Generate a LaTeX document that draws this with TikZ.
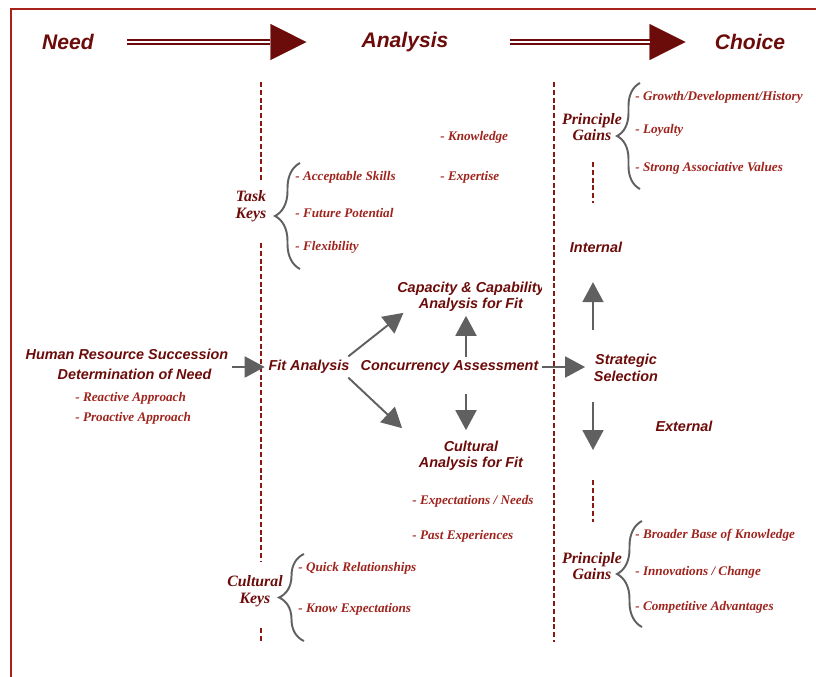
\documentclass[tikz,border=0pt]{standalone}
\usepackage{fontspec}
\setmainfont{Liberation Serif}
\setsansfont{Liberation Sans}
\usetikzlibrary{positioning,arrows.meta,decorations.pathreplacing}

\definecolor{headred}{RGB}{108,12,10}
\definecolor{itemred}{RGB}{158,36,30}
\definecolor{framered}{RGB}{168,34,28}
\definecolor{linered}{RGB}{140,24,20}
\definecolor{arrowgray}{RGB}{96,96,96}

\tikzset{
  stage/.style={font=\sffamily\bfseries\itshape\fontsize{12}{14}\selectfont, text=headred},
  lbl/.style={font=\sffamily\bfseries\itshape\fontsize{8.2}{9.4}\selectfont, text=headred, align=center, inner sep=2pt},
  keylbl/.style={font=\bfseries\itshape\fontsize{9}{9.5}\selectfont, text=headred, align=center, inner sep=2pt},
  item/.style={font=\bfseries\itshape\fontsize{7.5}{9}\selectfont, text=itemred, anchor=west, inner sep=0pt},
  flow/.style={draw=arrowgray, line width=1.1pt, -{Triangle[length=0.4cm,width=0.42cm]}},
  shaft/.style={draw=headred, line width=0.9pt, double=white, double distance=1.6pt},
  bighead/.style={draw=headred, line width=0.1pt, -{Triangle[length=0.72cm,width=0.72cm]}},
  divider/.style={draw=linered, line width=0.75pt, dash pattern=on 0.1cm off 0.055cm},
  bracket/.style={draw=arrowgray, line width=1.1pt, decorate, decoration={brace, amplitude=#1}},
  bracket/.default=0.5cm
}

\begin{document}
\begin{tikzpicture}[x=0.02cm, y=-0.02cm]
\useasboundingbox (0,0) rectangle (816,677);
\draw[framered, line width=1.2pt] (11,677) -- (11,9) -- (816,9);

\node (need) [stage] at (68,42) {Need};
\node (analysis) [stage] at (405,42) {Analysis};
\node (choice) [stage] at (750,42) {Choice};

\draw[bighead, shorten <=0.54cm, shorten >=0.98cm] (need.east) to (analysis.west);
\draw[shaft, shorten <=0.54cm, shorten >=1.7cm] (need.east) to (analysis.west);
\draw[bighead, shorten <=1.1cm, shorten >=0.46cm] (analysis.east) to (choice.west);
\draw[shaft, shorten <=1.1cm, shorten >=1.18cm] (analysis.east) to (choice.west);

\draw[divider] (261,82) -- (261,180);
\draw[divider] (261,243) -- (261,562);
\draw[divider] (261,628) -- (261,642);
\draw[divider] (554,82) -- (554,642);
\draw[divider] (593,162) -- (593,203);
\draw[divider] (593,480) -- (593,522);

\node (hr) [lbl] at (127,364) {Human Resource Succession\\[1.9pt]\hspace{0.3cm}Determination of Need};
\node (react) [item] at (75,398) {- Reactive Approach};
\node (proact) [item] at (75,418) {- Proactive Approach};

\node (fit) [lbl] at (309,367) {Fit Analysis};
\node (conc) [lbl] at (449.5,367) {Concurrency Assessment};
\begin{scope}
\clip (380,270) rectangle (541,330);
\node (capa) [lbl] at (471,297) {Capacity \& Capability\\Analysis for Fit};
\end{scope}
\node (cult) [lbl] at (471,456) {Cultural\\Analysis for Fit};
\node (strat) [lbl] at (626,368) {Strategic\\Selection};
\node (intl) [lbl] at (596,247) {Internal};
\node (extl) [lbl] at (684,426) {External};

\node (know) [item] at (440,137) {- Knowledge};
\node (expert) [item] at (440,177) {- Expertise};
\node (expneed) [item] at (412,501) {- Expectations / Needs};
\node (pastexp) [item] at (412,536) {- Past Experiences};

\node (taskkeys) [keylbl] at (251,206) {Task\\Keys};
\node (skills) [item] at (295,177) {- Acceptable Skills};
\node (potential) [item] at (295,213) {- Future Potential};
\node (flex) [item] at (295,247) {- Flexibility};
\draw[bracket] (300,269) -- (300,163);

\node (cultkeys) [keylbl] at (255,591) {Cultural\\Keys};
\node (quick) [item] at (298,568) {- Quick Relationships};
\node (knowexp) [item] at (298,609) {- Know Expectations};
\draw[bracket] (304,641) -- (304,554);

\node (gainsin) [keylbl] at (592,127) {Principle\\Gains};
\node (growth) [item] at (635,97) {- Growth/Development/History};
\node (loyal) [item] at (635,130) {- Loyalty};
\node (assoc) [item] at (635,168) {- Strong Associative Values};
\draw[bracket=0.46cm] (640,189) -- (640,83);

\node (gainsex) [keylbl] at (592,566) {Principle\\Gains};
\node (broad) [item] at (635,535) {- Broader Base of Knowledge};
\node (innov) [item] at (635,572) {- Innovations / Change};
\node (compet) [item] at (635,607) {- Competitive Advantages};
\draw[bracket] (642,627) -- (642,521);

\coordinate (cx) at (466,0);
\coordinate (sx) at (593,0);
\coordinate (dn) at (593,450);

\draw[flow] (hr.east |- fit.west) to (fit.west);
\draw[flow] ([xshift=-0.1cm]fit.north east) to ([shift={(0.2cm,0.06cm)}]capa.south west);
\draw[flow] ([xshift=-0.1cm]fit.south east) to ([shift={(-0.26cm,0.18cm)}]cult.north west);
\draw[flow] (cx |- conc.north) to (cx |- capa.south);
\draw[flow, shorten <=0.34cm, shorten >=0.14cm] (cx |- conc.south) to (cx |- cult.north);
\draw[flow, shorten >=0.1cm] (conc.east) to (strat.west |- conc.east);
\draw[flow, shorten <=0.42cm, shorten >=0.52cm] (sx |- strat.north) to (sx |- intl.south);
\draw[flow, shorten <=0.34cm] (sx |- strat.south) to (dn);

\end{tikzpicture}
\end{document}
